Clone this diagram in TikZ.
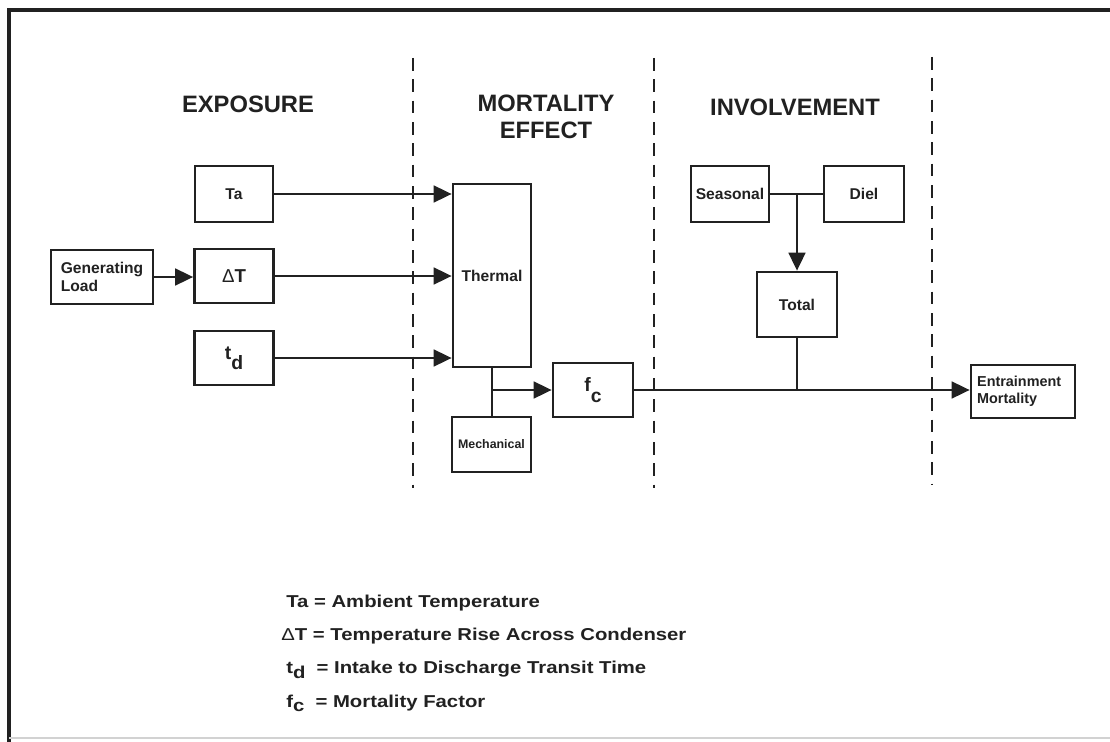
\documentclass[tikz,border=0pt]{standalone}
\usepackage{fontspec}
\setmainfont{Liberation Sans}
\newfontfamily\legendfont[FakeStretch=1.18]{Liberation Sans}
\usetikzlibrary{arrows.meta}
\definecolor{ink}{gray}{0.13}
\newcommand\lowsub[2][0.45em]{\raisebox{-#1}{#2}}
\begin{document}
\begin{tikzpicture}[x=0.75pt,y=-0.75pt,
  box/.style={draw=ink, line width=2pt, inner sep=0pt, text=ink, align=center,
    font=\bfseries\fontsize{11.7}{13.5}\selectfont},
  bsize/.style 2 args={minimum width=#1*0.75pt, minimum height=#2*0.75pt},
  conn/.style={draw=ink, line width=2pt},
  arr/.style={conn, -{Triangle[length=13.5pt,width=12.5pt]}},
  divider/.style={draw=ink, line width=2pt, dash pattern=on 9.5pt off 6.5pt},
  head/.style={text=ink, align=center, inner sep=0pt,
    font=\bfseries\fontsize{17.8}{20}\selectfont},
  legend/.style={anchor=base west, inner sep=0pt, text=ink,
    font=\legendfont\bfseries\fontsize{12.9}{15}\selectfont}]
\useasboundingbox (0,0) rectangle (1110,742);
\fill[white] (0,0) rectangle (1110,742);
% frame
\draw[ink, line width=2.6pt] (9,742) -- (9,10) -- (1110,10);
\draw[gray!35, line width=1pt] (9,738) -- (1110,738);
% dividers
\draw[divider] (413,58) -- (413,488);
\draw[divider] (654,58) -- (654,488);
\draw[divider] (932,57) -- (932,485);
% headings
\node[head] (hexp) at (248,104) {EXPOSURE};
\node[head] (hmort) at (546,117) {MORTALITY\\EFFECT};
\node[head] (hinv) at (795,107) {INVOLVEMENT};
% boxes
\node[box, bsize={78}{56}] (ta) at (234,194) {Ta};
\node[box, bsize={79}{54}] (dt) at (234,276) {\fontsize{14}{16}\selectfont{\mdseries Δ}T};
\node[box, bsize={102}{54}, align=left] (gl) at (102,277) {Generating\\Load\hspace*{2.6em}};
\node[box, bsize={79}{54}] (td) at (234,358) {\fontsize{14.5}{16}\selectfont t\lowsub[0.5em]{d}};
\node[box, bsize={78}{183}] (th) at (492,275.5) {Thermal};
\node[box, bsize={79}{55}, font=\bfseries\fontsize{9.3}{11}\selectfont] (mech) at (491.5,444.5) {Mechanical};
\node[box, bsize={80}{54}] (fc) at (593,390) {\fontsize{14.5}{16}\selectfont f\lowsub[0.55em]{c}};
\node[box, bsize={78}{56}] (sea) at (730,194) {Seasonal};
\node[box, bsize={80}{56}] (diel) at (864,194) {Diel};
\node[box, bsize={80}{65}] (tot) at (797,304.5) {Total};
\node[box, bsize={104}{53}, align=left, font=\bfseries\fontsize{10.8}{12.5}\selectfont] (en) at (1023,391.5) {Entrainment\\Mortality\hspace*{2.2em}};
% connectors
\draw[arr] (ta.east) -- (ta.east -| th.west);
\draw[arr] (gl.east) -- (gl.east -| dt.west);
\draw[arr] (dt.east) -- (dt.east -| th.west);
\draw[arr] (td.east) -- (td.east -| th.west);
\draw[conn] (th.south) -- (th.south |- mech.north);
\coordinate (br) at (th.south |- fc.west);
\draw[arr] (br) -- (fc.west);
\draw[arr] (fc.east) -- (fc.east -| en.west);
\draw[conn] (sea.east) -- (diel.west);
\coordinate (j) at (tot.north |- sea.east);
\draw[arr] (j) -- (tot.north);
\draw[conn] (tot.south) -- (tot.south |- fc.east);
% legend
\node[legend] (l1) at (286,607) {Ta = Ambient Temperature};
\node[legend] (l2) at (281,640) {{\mdseries Δ}T = Temperature Rise Across Condenser};
\node[legend] (l3) at (286,673) {t\lowsub[0.3em]{d}\ \ = Intake to Discharge Transit Time};
\node[legend] (l4) at (286,707) {f\lowsub[0.25em]{c}\ \ = Mortality Factor};
\end{tikzpicture}
\end{document}
